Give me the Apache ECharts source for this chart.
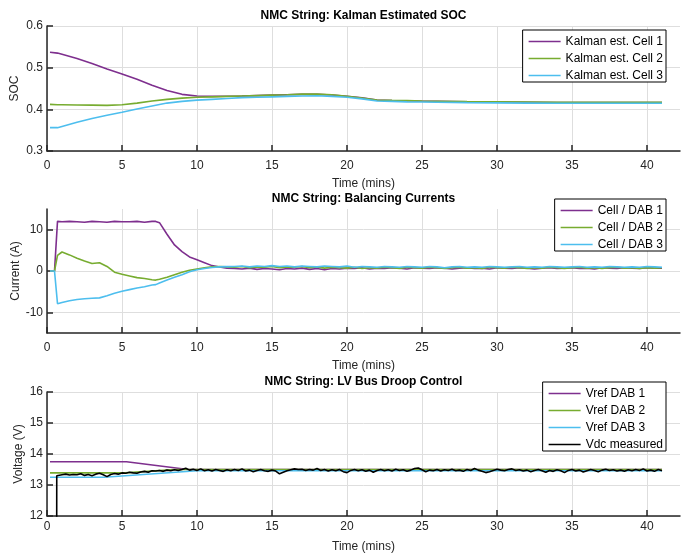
<!DOCTYPE html>
<html>
<head>
<meta charset="utf-8">
<script src="https://cdn.jsdelivr.net/npm/echarts@6/dist/echarts.min.js"></script>
<style>html,body{margin:0;padding:0;background:#fff;}#c{width:682px;height:554px;}</style>
</head>
<body>
<div id="c"></div>
<script>
// ---------- Plot 1: Kalman estimated SOC ----------
var tSoc = [0.2, 0.7, 1, 2, 3, 4, 5, 6, 7, 8, 9, 10, 11, 12, 13, 14, 15, 16, 17, 18, 19, 20, 21, 22, 23, 24, 25, 26, 28, 30, 32, 34, 36, 38, 40, 41];
var socCell1 = [0.537, 0.535, 0.532, 0.522, 0.510, 0.497, 0.485, 0.472, 0.458, 0.445, 0.436, 0.432, 0.431, 0.4315, 0.432, 0.433, 0.434, 0.435, 0.436, 0.436, 0.4345, 0.4315, 0.4275, 0.4225, 0.421, 0.4205, 0.4195, 0.419, 0.418, 0.4175, 0.417, 0.4165, 0.4165, 0.4165, 0.4165, 0.4165];
var socCell2 = [0.412, 0.411, 0.411, 0.4105, 0.410, 0.4095, 0.411, 0.415, 0.420, 0.424, 0.427, 0.429, 0.430, 0.431, 0.432, 0.433, 0.434, 0.435, 0.4365, 0.4365, 0.435, 0.4315, 0.427, 0.4225, 0.4215, 0.421, 0.420, 0.4195, 0.4185, 0.418, 0.4175, 0.417, 0.417, 0.417, 0.417, 0.417];
var socCell3 = [0.356, 0.356, 0.359, 0.369, 0.378, 0.386, 0.393, 0.401, 0.408, 0.415, 0.419, 0.422, 0.424, 0.426, 0.428, 0.429, 0.430, 0.431, 0.432, 0.4325, 0.431, 0.429, 0.425, 0.420, 0.419, 0.418, 0.4175, 0.417, 0.416, 0.4155, 0.415, 0.4145, 0.4145, 0.4145, 0.4145, 0.4145];
var socTicks = [0.3, 0.4, 0.5, 0.6];

// ---------- Plot 2: balancing currents ----------
var tCur = [0.2, 0.5, 0.7, 1, 1.5, 2, 2.5, 3, 3.5, 4, 4.5, 5, 5.5, 6, 6.5, 7, 7.25,
  7.5, 8, 8.5, 9, 9.5, 10, 10.5, 11, 11.5, 12,
  12.5, 13, 13.5, 14, 14.5, 15, 15.5, 16, 16.5, 17, 17.5, 18, 18.5, 19, 19.5, 20, 20.5, 21, 21.5,
  22, 22.5, 23, 23.5, 24, 24.5, 25, 25.5, 26, 26.5, 27, 27.5, 28, 28.5, 29, 29.5, 30, 30.5, 31, 31.5,
  32, 32.5, 33, 33.5, 34, 34.5, 35, 35.5, 36, 36.5, 37, 37.5, 38, 38.5, 39, 39.5, 40, 40.5, 41];
var curDab1 = [0, 0, 12.0, 11.9, 12.0, 11.9, 11.8, 12.0, 11.9, 11.8, 12.0, 11.9, 11.9, 12.0, 11.8, 12.0, 12.0,
  11.7, 8.9, 6.3, 4.7, 3.4, 2.7, 2.0, 1.3, 0.95, 0.7,
  0.6, 0.5, 0.7, 0.4, 0.6, 0.5, 0.3, 0.6, 0.5, 0.7, 0.4, 0.6, 0.3, 0.6, 0.5, 0.7, 0.6, 0.8, 0.5,
  0.7, 0.6, 0.8, 0.7, 0.5, 0.8, 0.7, 0.6, 0.8, 0.7, 0.5, 0.7, 0.8, 0.6, 0.7, 0.5, 0.8, 0.7, 0.6, 0.8,
  0.7, 0.5, 0.7, 0.8, 0.6, 0.7, 0.8, 0.6, 0.7, 0.5, 0.8, 0.7, 0.6, 0.8, 0.7, 0.6, 0.8, 0.7, 0.7];
var curDab2 = [0, 0, 3.8, 4.6, 3.9, 3.1, 2.4, 1.8, 2.0, 1.1, -0.3, -0.8, -1.2, -1.6, -1.8, -2.1, -2.2,
  -2.0, -1.5, -0.9, -0.3, 0.2, 0.5, 0.8, 1.0, 1.1, 1.0,
  0.9, 1.1, 0.8, 1.0, 0.9, 1.1, 0.8, 1.0, 0.9, 1.1, 0.8, 1.0, 0.7, 0.9, 0.8, 0.7, 0.9, 0.6, 0.8,
  0.7, 0.9, 0.8, 0.6, 0.9, 0.8, 0.7, 0.9, 0.8, 0.6, 0.8, 0.9, 0.7, 0.8, 0.6, 0.9, 0.8, 0.7, 0.9, 0.8,
  0.6, 0.8, 0.7, 0.9, 0.8, 0.6, 0.8, 0.9, 0.7, 0.8, 0.6, 0.8, 0.9, 0.7, 0.8, 0.6, 0.8, 0.7, 0.8];
var curDab3 = [0, 0, -7.9, -7.6, -7.2, -6.9, -6.7, -6.6, -6.5, -6.0, -5.4, -4.9, -4.5, -4.1, -3.8, -3.4, -3.3,
  -2.9, -2.2, -1.5, -0.9, -0.2, 0.3, 0.6, 0.85, 1.0, 1.05,
  1.1, 1.2, 1.0, 1.2, 1.1, 1.3, 1.1, 1.2, 1.0, 1.2, 1.1, 1.0, 1.2, 1.1, 1.0, 1.2, 0.9, 1.1, 1.0,
  0.9, 1.1, 1.0, 0.9, 1.1, 1.0, 0.9, 1.1, 1.0, 0.8, 1.0, 1.1, 0.9, 1.0, 0.9, 1.1, 1.0, 0.9, 1.0, 1.1,
  0.9, 1.0, 0.9, 1.1, 1.0, 0.9, 1.0, 1.1, 0.9, 1.0, 0.9, 1.1, 1.0, 0.9, 1.0, 0.9, 1.1, 1.0, 0.9];
var curTicks = [-10, 0, 10];

// ---------- Plot 3: LV bus droop control ----------
var tVref1 = [0.2, 5.3, 9.4, 41];
var vref1 = [13.75, 13.75, 13.5, 13.5];
var tVref2 = [0.2, 5.2, 8.5, 41];
var vref2 = [13.39, 13.39, 13.5, 13.5];
var tVref3 = [0.2, 3.8, 10, 41];
var vref3 = [13.25, 13.25, 13.46, 13.46];
var tVdc = [0.62, 0.65,
  0.75, 1, 1.25, 1.5, 1.75, 2, 2.25, 2.5, 2.75, 3, 3.25, 3.5, 3.75, 4, 4.25, 4.5, 4.75, 5,
  5.25, 5.5, 5.75, 6, 6.25, 6.5, 6.75, 7, 7.25, 7.5, 7.75, 8, 8.25, 8.5, 8.75, 9, 9.25, 9.5, 9.75, 10,
  10.25, 10.5, 10.75, 11, 11.25, 11.5, 11.75, 12, 12.25, 12.5, 12.75, 13, 13.25, 13.5, 13.75, 14, 14.25, 14.5, 14.75, 15,
  15.25, 15.5, 15.75, 16, 16.25, 16.5, 16.75, 17, 17.25, 17.5, 17.75, 18, 18.25, 18.5, 18.75, 19, 19.25, 19.5, 19.75, 20,
  20.25, 20.5, 20.75, 21, 21.25, 21.5, 21.75, 22, 22.25, 22.5, 22.75, 23, 23.25, 23.5, 23.75, 24, 24.25, 24.5, 24.75, 25,
  25.25, 25.5, 25.75, 26, 26.25, 26.5, 26.75, 27, 27.25, 27.5, 27.75, 28, 28.25, 28.5, 28.75, 29, 29.25, 29.5, 29.75, 30,
  30.25, 30.5, 30.75, 31, 31.25, 31.5, 31.75, 32, 32.25, 32.5, 32.75, 33, 33.25, 33.5, 33.75, 34, 34.25, 34.5, 34.75, 35,
  35.25, 35.5, 35.75, 36, 36.25, 36.5, 36.75, 37, 37.25, 37.5, 37.75, 38, 38.25, 38.5, 38.75, 39, 39.25, 39.5, 39.75, 40,
  40.25, 40.5, 40.75, 41];
var vdcMeasured = [0, 13.30,
  13.36, 13.33, 13.35, 13.32, 13.34, 13.33, 13.36, 13.31, 13.34, 13.30, 13.35, 13.38, 13.33, 13.27, 13.34, 13.37, 13.35, 13.39,
  13.38, 13.41, 13.39, 13.38, 13.42, 13.44, 13.41, 13.46, 13.45, 13.47, 13.44, 13.48, 13.46, 13.49, 13.47, 13.50, 13.54, 13.48, 13.51, 13.47,
  13.52, 13.46, 13.49, 13.45, 13.50, 13.47, 13.44, 13.49, 13.46, 13.50, 13.47, 13.52, 13.45, 13.48, 13.43, 13.47, 13.50, 13.46, 13.44, 13.48,
  13.45, 13.36, 13.41, 13.46, 13.49, 13.52, 13.50, 13.51, 13.47, 13.50, 13.48, 13.53, 13.47, 13.50, 13.45, 13.49, 13.46, 13.50, 13.43, 13.40,
  13.47, 13.50, 13.46, 13.49, 13.44, 13.48, 13.41, 13.47, 13.50, 13.46, 13.49, 13.45, 13.51, 13.47, 13.49, 13.44, 13.48, 13.53, 13.55, 13.49,
  13.43, 13.48, 13.46, 13.50, 13.45, 13.49, 13.47, 13.51, 13.46, 13.48, 13.44, 13.50, 13.47, 13.53, 13.48, 13.44, 13.40, 13.43, 13.47, 13.51,
  13.48, 13.46, 13.50, 13.52, 13.47, 13.49, 13.45, 13.48, 13.43, 13.47, 13.50, 13.46, 13.41, 13.47, 13.44, 13.49, 13.46, 13.40, 13.47, 13.50,
  13.45, 13.48, 13.42, 13.46, 13.50, 13.47, 13.43, 13.48, 13.51, 13.47, 13.49, 13.45, 13.48, 13.44, 13.49, 13.46, 13.50, 13.47, 13.52, 13.45,
  13.48, 13.44, 13.50, 13.46];
var voltTicks = [12, 13, 14, 15, 16];

var timeTicks = [0, 5, 10, 15, 20, 25, 30, 35, 40];
var titles = ['NMC String: Kalman Estimated SOC', 'NMC String: Balancing Currents', 'NMC String: LV Bus Droop Control'];

// ---------- build ----------
function zip(t, v) { return t.map(function (x, i) { return [x, v[i]]; }); }

var AX = '#262626', GRID = '#dedede';
var FONT = 'Liberation Sans, Arial, Helvetica, sans-serif';
var grids = [
  { left: 47, right: 2, top: 26, height: 125, outerBoundsMode: 'none', containLabel: false },
  { left: 47, right: 2, top: 209, height: 124, outerBoundsMode: 'none', containLabel: false },
  { left: 47, right: 2, top: 392, height: 124, outerBoundsMode: 'none', containLabel: false }
];

function xAxisFor(i, labelMargin, nameGap) {
  return {
    type: 'value', gridIndex: i, min: 0, max: 42.2, interval: 5,
    name: 'Time (mins)', nameLocation: 'middle', nameGap: nameGap, nameMoveOverlap: false,
    nameTextStyle: { color: AX, fontSize: 12, fontFamily: FONT },
    axisLine: { show: true, onZero: false, lineStyle: { color: AX, width: 1.5 } },
    axisTick: { show: true, inside: true, length: 6, customValues: timeTicks, lineStyle: { color: AX, width: 1.5 } },
    axisLabel: { customValues: timeTicks, color: AX, fontSize: 12, fontFamily: FONT, margin: labelMargin },
    splitLine: { show: true, lineStyle: { color: GRID, width: 1 } }
  };
}
function yAxisFor(i, name, min, max, interval, ticks, gap, fmt) {
  return {
    type: 'value', gridIndex: i, min: min, max: max, interval: interval,
    name: name, nameLocation: 'middle', nameGap: gap, nameMoveOverlap: false,
    nameTextStyle: { color: AX, fontSize: 12, fontFamily: FONT },
    axisLine: { show: true, onZero: false, lineStyle: { color: AX, width: 1.5 } },
    axisTick: { show: true, inside: true, length: 6, customValues: ticks, lineStyle: { color: AX, width: 1.5 } },
    axisLabel: { customValues: ticks, color: AX, fontSize: 12, fontFamily: FONT, margin: 4, formatter: fmt },
    splitLine: { show: true, lineStyle: { color: GRID, width: 1 } }
  };
}

var C1 = '#7E2F8E', C2 = '#77AC30', C3 = '#4DBEEE', C4 = '#000000';
function line(name, data, color, idx, z) {
  return {
    type: 'line', name: name, data: data, xAxisIndex: idx, yAxisIndex: idx,
    showSymbol: false, symbol: 'none', z: z,
    lineStyle: { color: color, width: 1.6 }, itemStyle: { color: color }
  };
}

function legend(top, names) {
  return {
    orient: 'vertical', right: 16, top: top, data: names,
    icon: 'rect', itemWidth: 32, itemHeight: 1.6, itemGap: 5,
    padding: [5.5, 3, 0.5, 6], backgroundColor: '#fff', borderColor: '#000', borderWidth: 1,
    selectedMode: false,
    textStyle: { color: '#000', fontSize: 12, lineHeight: 12, fontFamily: FONT }
  };
}

var option = {
  animation: false,
  backgroundColor: '#fff',
  title: [
    { text: titles[0], left: 363.5, top: 10, textAlign: 'center', padding: 0, textStyle: { fontSize: 12, fontWeight: 'bold', color: '#000', fontFamily: FONT } },
    { text: titles[1], left: 363.5, top: 193, textAlign: 'center', padding: 0, textStyle: { fontSize: 12, fontWeight: 'bold', color: '#000', fontFamily: FONT } },
    { text: titles[2], left: 363.5, top: 376, textAlign: 'center', padding: 0, textStyle: { fontSize: 12, fontWeight: 'bold', color: '#000', fontFamily: FONT } }
  ],
  grid: grids,
  xAxis: [xAxisFor(0, 9, 27), xAxisFor(1, 9, 26.5), xAxisFor(2, 5, 25)],
  yAxis: [
    yAxisFor(0, 'SOC', 0.3, 0.6, 0.1, socTicks, 26, function (v) { return v.toFixed(1); }),
    yAxisFor(1, 'Current (A)', -15, 15, 5, curTicks, 25, null),
    yAxisFor(2, 'Voltage (V)', 12, 16, 1, voltTicks, 22, null)
  ],
  legend: [
    legend(30, ['Kalman est. Cell 1', 'Kalman est. Cell 2', 'Kalman est. Cell 3']),
    legend(199, ['Cell / DAB 1', 'Cell / DAB 2', 'Cell / DAB 3']),
    legend(382, ['Vref DAB 1', 'Vref DAB 2', 'Vref DAB 3', 'Vdc measured'])
  ],
  series: [
    line('Kalman est. Cell 1', zip(tSoc, socCell1), C1, 0, 2),
    line('Kalman est. Cell 2', zip(tSoc, socCell2), C2, 0, 3),
    line('Kalman est. Cell 3', zip(tSoc, socCell3), C3, 0, 4),
    line('Cell / DAB 1', zip(tCur, curDab1), C1, 1, 2),
    line('Cell / DAB 2', zip(tCur, curDab2), C2, 1, 3),
    line('Cell / DAB 3', zip(tCur, curDab3), C3, 1, 4),
    line('Vref DAB 1', zip(tVref1, vref1), C1, 2, 2),
    line('Vref DAB 2', zip(tVref2, vref2), C2, 2, 3),
    line('Vref DAB 3', zip(tVref3, vref3), C3, 2, 4),
    line('Vdc measured', zip(tVdc, vdcMeasured), C4, 2, 5)
  ]
};

var chart = echarts.init(document.getElementById('c'), null, { renderer: 'canvas' });
chart.setOption(option);
</script>
</body>
</html>
